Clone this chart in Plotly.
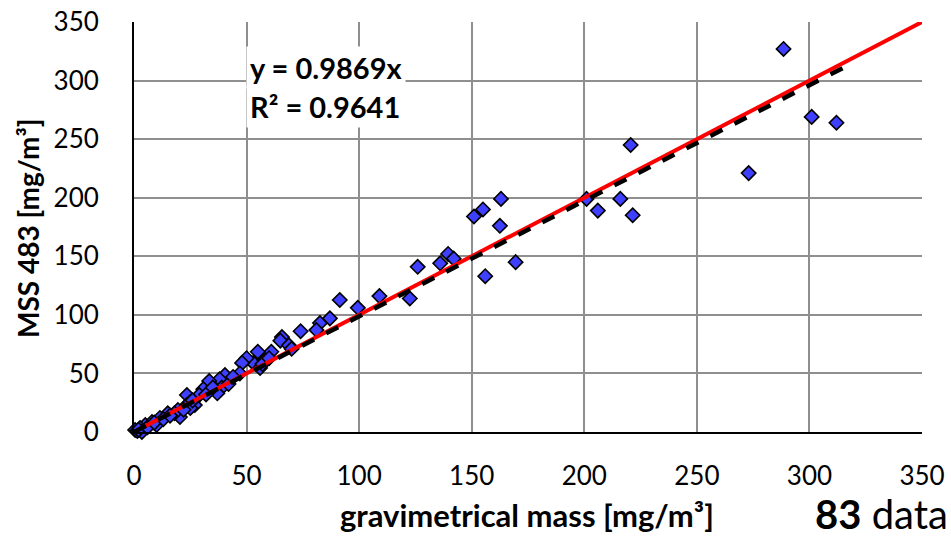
import plotly.graph_objects as go

# gravimetrical mass [mg/m3] vs MSS 483 [mg/m3]
grav = [288.5, 301, 312, 273, 220.6, 221.5, 216, 206, 201, 163, 155, 151, 162.5, 169.5,
        156, 139.5, 142, 136, 126, 109, 122.5, 99.4, 91.4, 87, 82.6, 81, 74, 65.7, 65,
        68.8, 61, 55, 53, 56, 58, 50, 48, 47, 40.4, 38, 33.4, 39, 30.8, 37, 29, 23.5, 25,
        27, 23.5, 25, 19.5, 20.4, 18, 15, 11.5, 8, 10, 5, 2.7, 0.5, 3.5,
        1.5, 2, 6, 9, 13, 16, 22, 26, 32, 35, 42, 44, 57, 60, 70]
mss = [327, 269, 264, 221, 245, 185, 199, 189, 199, 199, 190, 184, 176, 145,
       133, 152, 148, 144, 141, 116, 114, 106, 112.7, 97, 93, 87, 86, 81, 78,
       74, 68.5, 68.5, 59, 54.6, 61, 63, 59, 50, 48.6, 45, 43.5, 38, 36.6, 33, 31.6, 31.6, 25.6,
       23, 23, 20.5, 18.8, 12.8, 16, 16, 12, 8.5, 6, 6, 3.4, 1.7, 0,
       0.8, 2, 4, 8, 11, 14, 19, 27, 32, 38, 41, 47, 58, 63, 71]

slope = 0.9869
r2 = 0.9641
ref_x = [0, 350]
ref_y = [0, 350]
trend_x = [0, 320]
trend_y = [v * slope for v in trend_x]

tick_vals = [0, 50, 100, 150, 200, 250, 300, 350]

W, H = 951, 537
ML, MR, MT, MB = 134, 29, 22, 105
PW, PH = W - ML - MR, H - MT - MB


def px(x, y):
    """page pixel -> paper coords"""
    return (x - ML) / PW, (H - MB - y) / PH


font_family = "Lato, 'Open Sans', sans-serif"

fig = go.Figure()
fig.add_trace(go.Scatter(
    x=grav, y=mss, mode="markers",
    marker=dict(symbol="diamond", size=11, color="#3f3fff",
                line=dict(color="black", width=1.6)),
    cliponaxis=False, showlegend=False, hoverinfo="skip"))
fig.add_trace(go.Scatter(
    x=ref_x, y=ref_y, mode="lines",
    line=dict(color="#ff0000", width=4), showlegend=False, hoverinfo="skip"))
fig.add_trace(go.Scatter(
    x=trend_x, y=trend_y, mode="lines",
    line=dict(color="black", width=4.5, dash="dash"), showlegend=False,
    hoverinfo="skip"))

ann = []
x1, y1 = px(246, 67)
ann.append(dict(x=x1, y=y1, text=f"<b>y = {slope}x</b>"))
x2, y2 = px(246, 107)
ann.append(dict(x=x2, y=y2, text=f"<b>R² = {r2}</b>"))
for a in ann:
    a.update(xref="paper", yref="paper", xanchor="left", yanchor="middle",
             showarrow=False, bgcolor="white", borderpad=3,
             font=dict(size=29, family=font_family))
xt, yt = px(527, 515)
ann.append(dict(x=xt, y=yt, xref="paper", yref="paper", xanchor="center",
                yanchor="middle", showarrow=False,
                text="<b>gravimetrical mass [mg/m³]</b>",
                font=dict(size=31, family=font_family)))
xy, yy = px(28, 228)
ann.append(dict(x=xy, y=yy, xref="paper", yref="paper", xanchor="center",
                yanchor="middle", showarrow=False, textangle=-90,
                text="<b>MSS 483 [mg/m³]</b>",
                font=dict(size=28, family=font_family)))
xd, yd = px(813, 514)
ann.append(dict(x=xd, y=yd, xref="paper", yref="paper", xanchor="left",
                yanchor="middle", showarrow=False,
                text="<b>83</b> data points",
                font=dict(size=40, family=font_family)))

fig.update_layout(
    width=W, height=H,
    margin=dict(l=ML, r=MR, t=MT, b=MB, autoexpand=False),
    paper_bgcolor="white", plot_bgcolor="white",
    font=dict(family=font_family, color="black", size=26),
    xaxis=dict(range=[0, 350], tickvals=tick_vals, showgrid=True,
               gridcolor="#8f8f8f", gridwidth=1.5, showline=True,
               linecolor="black", linewidth=2, zeroline=False, automargin=False,
               ticks="", ticklabelstandoff=20, ticklabeloverflow="allow"),
    yaxis=dict(range=[0, 350], tickvals=tick_vals, showgrid=True,
               gridcolor="#8f8f8f", gridwidth=1.5, showline=True,
               linecolor="black", linewidth=2, zeroline=False, automargin=False,
               ticks="", ticklabelstandoff=28, ticklabeloverflow="allow"),
    annotations=ann,
)

fig.write_html(
    "out.html",
    config={"displayModeBar": False},
    post_script="document.body.style.margin='0';document.body.style.overflow='hidden';",
)
